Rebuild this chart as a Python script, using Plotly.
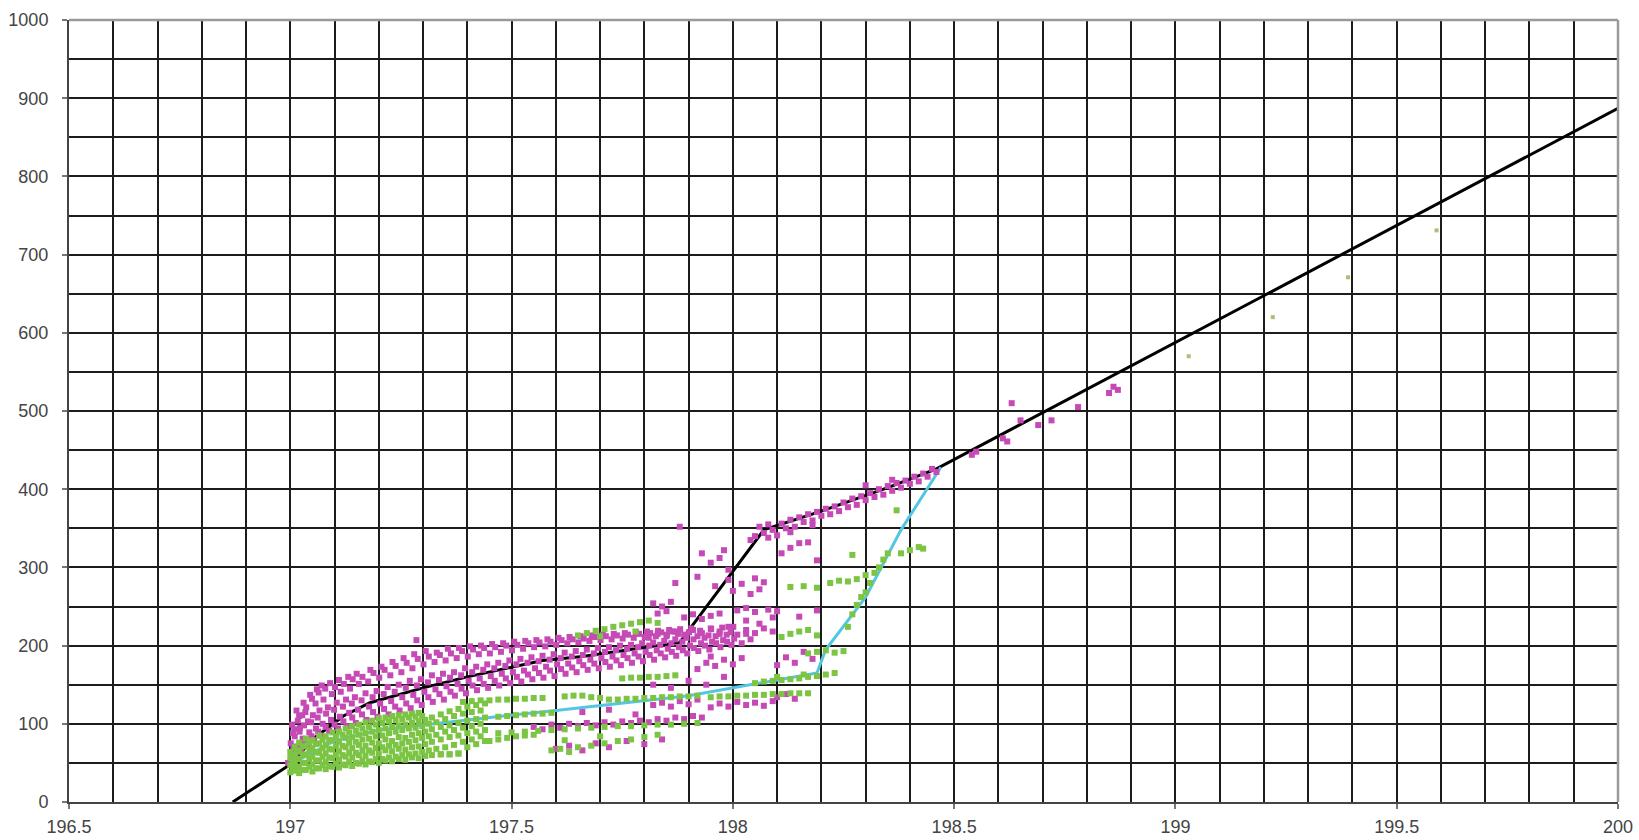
import plotly.graph_objects as go

# ---------------- data ----------------
black_x = [196.87, 197.0, 197.05, 197.12, 197.18, 197.3, 197.4, 197.57, 197.66, 197.88, 198.07, 198.2, 198.35, 198.46, 200.0]
black_y = [0, 48, 80, 110, 127, 146, 160, 181, 186, 204, 348, 372, 402, 426, 887]

cyan_x = [197.0, 197.1, 197.2, 197.4, 197.6, 197.9, 198.19, 198.21, 198.3, 198.38, 198.47]
cyan_y = [48, 78, 92, 105, 117, 136, 165, 195, 262, 348, 428]

magenta_main = [
    (196.995, 50), (197.003, 62), (197.001, 75), (197.006, 88), (197.004, 99),
    (197.012, 57), (197.015, 71), (197.010, 84), (197.017, 104), (197.014, 117),
    (197.024, 66), (197.028, 81), (197.022, 95), (197.027, 111), (197.030, 127),
    (197.038, 73), (197.043, 89), (197.040, 103), (197.036, 121), (197.045, 137),
    (197.054, 79), (197.058, 94), (197.051, 111), (197.057, 126), (197.060, 144),
    (197.069, 85), (197.073, 100), (197.066, 117), (197.075, 131), (197.071, 149),
    (197.088, 91), (197.092, 105), (197.085, 121), (197.094, 138), (197.090, 152),
    (197.108, 94), (197.112, 109), (197.105, 127), (197.114, 141), (197.110, 156),
    (197.128, 97), (197.133, 114), (197.126, 131), (197.135, 145), (197.131, 160),
    (197.148, 101), (197.153, 118), (197.146, 134), (197.155, 151), (197.150, 164),
    (197.172, 105), (197.178, 122), (197.170, 139), (197.176, 154), (197.181, 169),
    (197.197, 109), (197.203, 126), (197.195, 142), (197.201, 159), (197.206, 173),
    (197.222, 112), (197.228, 129), (197.220, 147), (197.226, 162), (197.231, 179),
    (197.247, 117), (197.253, 134), (197.245, 150), (197.251, 166), (197.256, 184),
    (197.272, 120), (197.278, 137), (197.270, 155), (197.276, 171), (197.280, 189), (197.285, 207),
    (197.297, 124), (197.303, 141), (197.295, 157), (197.301, 176), (197.306, 193),
    (197.322, 128), (197.328, 144), (197.320, 162), (197.326, 179), (197.331, 191),
    (197.347, 131), (197.353, 148), (197.345, 164), (197.351, 181), (197.356, 196),
    (197.372, 136), (197.378, 151), (197.370, 166), (197.376, 184), (197.381, 197),
    (197.397, 139), (197.403, 155), (197.395, 171), (197.401, 186), (197.406, 199),
    (197.422, 143), (197.428, 158), (197.420, 173), (197.426, 189), (197.431, 200),
    (197.447, 146), (197.453, 161), (197.445, 176), (197.451, 190), (197.456, 202),
    (197.472, 149), (197.478, 164), (197.470, 178), (197.476, 192), (197.481, 203),
    (197.497, 152), (197.503, 166), (197.495, 181), (197.501, 194), (197.506, 205),
    (197.522, 154), (197.528, 168), (197.520, 183), (197.526, 196), (197.531, 206),
    (197.547, 157), (197.553, 171), (197.545, 185), (197.551, 198), (197.556, 207),
    (197.572, 159), (197.578, 173), (197.570, 187), (197.576, 199), (197.581, 208),
    (197.597, 161), (197.603, 176), (197.595, 189), (197.601, 201), (197.606, 210),
    (197.622, 164), (197.628, 177), (197.620, 191), (197.626, 203), (197.631, 211),
    (197.647, 166), (197.653, 180), (197.645, 193), (197.651, 204), (197.656, 212),
    (197.672, 169), (197.678, 182), (197.670, 195), (197.676, 206), (197.681, 213),
    (197.697, 171), (197.703, 184), (197.695, 197), (197.701, 207), (197.706, 214),
    (197.722, 173), (197.728, 186), (197.720, 198), (197.726, 208), (197.731, 215),
    (197.747, 175), (197.753, 188), (197.745, 200), (197.751, 209), (197.756, 216),
    (197.772, 178), (197.778, 190), (197.770, 201), (197.776, 210), (197.781, 217),
    (197.797, 180), (197.803, 192), (197.795, 203), (197.801, 211), (197.806, 218),
    (197.822, 182), (197.828, 194), (197.820, 204), (197.826, 212), (197.831, 219),
    (197.847, 185), (197.853, 196), (197.845, 206), (197.851, 214), (197.856, 220),
    (197.872, 187), (197.878, 198), (197.870, 208), (197.876, 215), (197.881, 221),
    (197.897, 190), (197.903, 200), (197.895, 210), (197.901, 217), (197.906, 222),
    (197.922, 193), (197.928, 203), (197.920, 212), (197.926, 219),
    (197.947, 195), (197.953, 205), (197.945, 213), (197.951, 221),
    (197.972, 198), (197.978, 207), (197.970, 215), (197.976, 223),
    (197.997, 201), (198.003, 209), (197.995, 217), (198.001, 224),
    (198.02, 203), (198.04, 208), (198.03, 215),
]

magenta_fill = [
    (197.007, 68), (197.009, 93), (197.019, 64), (197.021, 90), (197.020, 110),
    (197.033, 78), (197.031, 98), (197.034, 115), (197.048, 84), (197.047, 102), (197.049, 132),
    (197.063, 90), (197.062, 108), (197.064, 140), (197.080, 96), (197.081, 113), (197.079, 145),
    (197.100, 99), (197.099, 118), (197.101, 147), (197.120, 103), (197.119, 122), (197.121, 151),
    (197.140, 108), (197.139, 126), (197.141, 157), (197.162, 112), (197.161, 130), (197.163, 160),
    (197.187, 115), (197.186, 134), (197.188, 165), (197.212, 119), (197.211, 138), (197.213, 169),
    (197.237, 122), (197.236, 141), (197.238, 174), (197.262, 126), (197.261, 146), (197.263, 178),
    (197.287, 130), (197.286, 149), (197.288, 183), (197.312, 134), (197.311, 153), (197.313, 186),
    (197.337, 138), (197.336, 156), (197.338, 188), (197.362, 141), (197.361, 159), (197.363, 190),
    (197.387, 145), (197.386, 162), (197.388, 193), (197.412, 149), (197.411, 166), (197.413, 195),
    (197.437, 151), (197.436, 169), (197.438, 197), (197.462, 155), (197.461, 171), (197.463, 198),
    (197.487, 158), (197.486, 174), (197.488, 200), (197.512, 160), (197.511, 176), (197.513, 201),
    (197.537, 163), (197.536, 178), (197.538, 203), (197.562, 165), (197.561, 180), (197.563, 204),
    (197.587, 168), (197.586, 182), (197.588, 205), (197.612, 170), (197.611, 184), (197.613, 207),
    (197.637, 172), (197.636, 186), (197.638, 208), (197.662, 175), (197.661, 188), (197.663, 209),
    (197.687, 177), (197.686, 190), (197.688, 211), (197.712, 179), (197.711, 192), (197.713, 212),
    (197.737, 181), (197.736, 194), (197.738, 213), (197.762, 184), (197.761, 196), (197.763, 214),
    (197.787, 186), (197.786, 198), (197.788, 215), (197.812, 188), (197.811, 200), (197.813, 216),
    (197.837, 190), (197.836, 201), (197.838, 217), (197.862, 192), (197.861, 203), (197.863, 218),
    (197.887, 194), (197.886, 205), (197.912, 197), (197.911, 208), (197.937, 200), (197.936, 210),
    (197.962, 203), (197.961, 212), (197.987, 205), (197.986, 214),
]

magenta_lower = [
    (197.55, 96), (197.57, 93), (197.59, 99), (197.61, 95), (197.63, 100),
    (197.65, 97), (197.67, 101), (197.69, 98), (197.71, 102), (197.73, 99),
    (197.75, 103), (197.77, 101), (197.79, 104), (197.81, 102), (197.83, 106),
    (197.85, 104), (197.87, 108), (197.89, 106), (197.91, 110), (197.93, 108),
    (197.60, 68), (197.63, 72), (197.66, 66), (197.69, 75), (197.72, 70),
    (197.76, 78), (197.80, 74), (197.84, 80),
    (197.82, 124), (197.84, 127), (197.86, 122), (197.88, 129), (197.90, 125), (197.92, 131),
    (197.95, 121), (197.97, 126), (197.99, 122), (198.01, 128), (198.03, 124),
    (198.05, 127), (198.07, 123), (198.09, 129),
    (198.10, 134), (198.12, 138), (198.14, 132),
    (197.82, 150), (197.86, 146), (197.90, 155), (197.94, 150), (197.98, 160),
    (197.92, 170), (197.94, 178), (197.96, 174), (197.98, 182), (198.00, 176),
    (198.02, 184), (197.95, 186),
    (197.66, 115), (197.72, 118), (197.78, 112),
]

magenta_steep = [
    (197.81, 210), (197.83, 215), (197.85, 212), (197.87, 218), (197.89, 214),
    (197.91, 220), (197.93, 216), (197.95, 222), (197.97, 218), (197.99, 224),
    (198.01, 214), (198.03, 220), (198.05, 216), (198.07, 222), (198.09, 218),
    (197.82, 254), (197.84, 250), (197.86, 256), (197.83, 241), (197.85, 244),
    (197.89, 236), (197.91, 240), (197.93, 234), (197.95, 238), (197.97, 241),
    (198.01, 245), (198.03, 248), (198.05, 243), (198.08, 246), (198.10, 244),
    (197.87, 280), (197.92, 288), (197.96, 276), (197.99, 284), (198.02, 279),
    (198.05, 286), (198.07, 281), (197.99, 297),
    (197.88, 352), (197.93, 318), (197.98, 322), (197.95, 306), (197.97, 312),
    (198.00, 270), (198.04, 266), (198.06, 272),
    (198.03, 232), (198.06, 228), (198.09, 236),
    (198.11, 318), (198.13, 325), (198.15, 331), (198.17, 332), (198.19, 309),
    (198.10, 175), (198.12, 185), (198.14, 178), (198.16, 192), (198.18, 183),
    (198.15, 237), (198.19, 245),
]

magenta_upper = [
    (198.05, 340), (198.06, 352), (198.07, 344), (198.08, 355), (198.09, 348),
    (198.10, 341), (198.11, 356), (198.12, 350), (198.13, 361), (198.14, 352),
    (198.15, 364), (198.16, 358), (198.17, 368), (198.18, 360), (198.19, 371),
    (198.20, 366), (198.21, 375), (198.22, 368), (198.23, 378), (198.24, 372),
    (198.25, 383), (198.26, 377), (198.27, 388), (198.28, 380), (198.29, 391),
    (198.30, 386), (198.31, 395), (198.32, 390), (198.33, 400), (198.34, 393),
    (198.35, 404), (198.36, 398), (198.37, 408), (198.38, 402), (198.39, 411),
    (198.40, 407), (198.41, 416), (198.42, 410), (198.43, 420), (198.44, 416),
    (198.45, 426), (198.46, 422),
    (198.04, 335), (198.08, 338), (198.13, 345), (198.18, 354), (198.30, 405), (198.36, 412),
]

magenta_far = [
    (198.54, 444), (198.55, 448), (198.61, 465), (198.62, 461), (198.63, 510),
    (198.65, 488), (198.69, 482), (198.72, 488), (198.78, 505), (198.85, 523),
    (198.86, 531), (198.87, 527),
]

green_main = [
    (197.000, 38), (197.000, 47), (197.000, 56), (197.000, 64),
    (197.010, 40), (197.010, 50), (197.010, 60), (197.010, 70),
    (197.020, 37), (197.020, 45), (197.020, 55), (197.020, 66), (197.020, 76),
    (197.035, 41), (197.035, 50), (197.035, 61), (197.035, 72), (197.035, 81),
    (197.050, 39), (197.050, 48), (197.050, 58), (197.050, 69), (197.050, 79),
    (197.065, 43), (197.065, 53), (197.065, 63), (197.065, 75), (197.065, 85),
    (197.080, 42), (197.080, 51), (197.080, 62), (197.080, 73), (197.080, 84),
    (197.095, 45), (197.095, 56), (197.095, 67), (197.095, 79), (197.095, 89),
    (197.110, 44), (197.110, 54), (197.110, 65), (197.110, 77), (197.110, 90),
    (197.125, 47), (197.125, 58), (197.125, 70), (197.125, 82), (197.125, 94),
    (197.140, 46), (197.140, 57), (197.140, 69), (197.140, 83), (197.140, 97),
    (197.155, 49), (197.155, 60), (197.155, 73), (197.155, 86), (197.155, 99),
    (197.170, 48), (197.170, 59), (197.170, 72), (197.170, 88), (197.170, 102),
    (197.185, 51), (197.185, 63), (197.185, 76), (197.185, 90), (197.185, 104),
    (197.200, 50), (197.200, 62), (197.200, 75), (197.200, 92), (197.200, 107),
    (197.215, 53), (197.215, 66), (197.215, 80), (197.215, 94), (197.215, 108),
    (197.230, 52), (197.230, 65), (197.230, 78), (197.230, 96), (197.230, 110),
    (197.245, 55), (197.245, 68), (197.245, 83), (197.245, 98), (197.245, 111),
    (197.260, 54), (197.260, 67), (197.260, 82), (197.260, 99), (197.260, 112),
    (197.275, 57), (197.275, 70), (197.275, 86), (197.275, 101), (197.275, 113),
    (197.290, 56), (197.290, 71), (197.290, 88), (197.290, 103), (197.290, 114),
    (197.305, 59), (197.305, 74), (197.305, 90), (197.305, 105),
    (197.320, 60), (197.320, 77), (197.320, 93), (197.320, 108),
    (197.340, 61), (197.340, 80), (197.340, 96), (197.340, 112),
    (197.360, 61), (197.360, 83), (197.360, 98), (197.360, 116),
    (197.380, 62), (197.380, 85), (197.380, 101), (197.380, 119),
    (197.400, 70), (197.400, 88), (197.400, 104), (197.400, 122),
    (197.420, 74), (197.420, 90), (197.420, 106), (197.420, 124),
    (197.440, 78), (197.440, 92), (197.440, 108), (197.440, 126),
]

green_fill = [
    (197.005, 43), (197.005, 52), (197.005, 60), (197.015, 45), (197.015, 55), (197.015, 65),
    (197.028, 41), (197.028, 50), (197.028, 60), (197.028, 71),
    (197.043, 45), (197.043, 55), (197.043, 66), (197.043, 76),
    (197.058, 43), (197.058, 53), (197.058, 64), (197.058, 74),
    (197.073, 47), (197.073, 58), (197.073, 69), (197.073, 80),
    (197.088, 46), (197.088, 57), (197.088, 68), (197.088, 79),
    (197.103, 49), (197.103, 60), (197.103, 72), (197.103, 84),
    (197.118, 48), (197.118, 60), (197.118, 72), (197.118, 86),
    (197.133, 51), (197.133, 63), (197.133, 76), (197.133, 89),
    (197.148, 50), (197.148, 63), (197.148, 77), (197.148, 91),
    (197.163, 53), (197.163, 66), (197.163, 80), (197.163, 94),
    (197.178, 52), (197.178, 66), (197.178, 81), (197.178, 96),
    (197.193, 55), (197.193, 69), (197.193, 84), (197.193, 99),
    (197.208, 55), (197.208, 70), (197.208, 85), (197.208, 101),
    (197.223, 57), (197.223, 72), (197.223, 88), (197.223, 103),
    (197.238, 58), (197.238, 73), (197.238, 90), (197.238, 105),
    (197.253, 60), (197.253, 75), (197.253, 92), (197.253, 106),
    (197.268, 61), (197.268, 77), (197.268, 94), (197.268, 108),
    (197.283, 62), (197.283, 79), (197.283, 95), (197.283, 109),
    (197.298, 64), (197.298, 82), (197.298, 97), (197.298, 110),
    (197.313, 66), (197.313, 84), (197.313, 100),
    (197.330, 68), (197.330, 86), (197.330, 102),
    (197.350, 70), (197.350, 90), (197.350, 106),
    (197.370, 73), (197.370, 92), (197.370, 110),
    (197.390, 77), (197.390, 95), (197.390, 113),
    (197.410, 80), (197.410, 97), (197.410, 115),
    (197.430, 84), (197.430, 100), (197.430, 117),
]

green_bands = [
    (197.39, 128), (197.41, 129), (197.43, 130), (197.45, 130), (197.47, 131),
    (197.49, 131), (197.51, 132), (197.53, 132), (197.55, 133), (197.57, 133),
    (197.62, 135), (197.64, 136), (197.66, 136), (197.68, 134), (197.70, 133),
    (197.72, 131), (197.74, 131), (197.76, 132), (197.78, 132), (197.80, 133),
    (197.82, 133), (197.84, 134), (197.86, 134), (197.88, 135), (197.90, 135),
    (197.92, 136), (197.95, 134), (197.97, 135), (197.99, 135), (198.01, 136),
    (198.03, 136), (198.05, 137), (198.07, 137), (198.09, 138), (198.11, 138),
    (198.13, 139), (198.15, 139), (198.17, 139),
    (197.75, 158), (197.77, 159), (197.79, 159), (197.81, 160), (197.83, 160),
    (197.85, 161), (197.87, 162),
    (198.05, 152), (198.07, 154), (198.09, 155), (198.11, 156), (198.13, 157),
    (198.15, 158), (198.17, 160), (198.19, 161), (198.21, 163), (198.23, 165),
    (198.10, 160), (198.16, 163),
    (197.47, 109), (197.49, 110), (197.51, 111), (197.53, 112), (197.55, 113),
    (197.57, 113), (197.59, 114),
    (197.47, 88), (197.50, 89), (197.53, 90), (197.56, 91), (197.59, 92),
    (197.62, 93), (197.65, 94), (197.68, 95), (197.71, 96), (197.74, 97),
    (197.77, 97), (197.80, 98), (197.83, 99), (197.86, 99), (197.89, 100),
    (197.92, 101),
    (197.45, 78), (197.47, 80), (197.49, 82), (197.51, 84), (197.53, 85), (197.55, 86),
    (197.59, 66), (197.61, 68), (197.63, 64), (197.65, 70), (197.68, 72),
    (197.71, 75), (197.74, 78), (197.77, 80), (197.80, 83), (197.83, 86),
    (197.62, 79), (197.70, 84),
    (197.34, 61), (197.36, 61), (197.38, 62),
    (197.65, 213), (197.67, 216), (197.69, 219), (197.71, 221), (197.73, 224),
    (197.75, 226), (197.77, 228), (197.79, 230), (197.81, 232), (197.83, 229),
    (197.70, 212), (197.78, 218),
]

green_rise = [
    (198.11, 211), (198.13, 215), (198.15, 218), (198.17, 220), (198.19, 213),
    (198.17, 190), (198.19, 192), (198.21, 194), (198.23, 191), (198.25, 193),
    (198.13, 275), (198.16, 276), (198.19, 274),
    (198.22, 280), (198.24, 283), (198.26, 282),
    (198.28, 285), (198.30, 290), (198.32, 293),
    (198.26, 224), (198.27, 240), (198.28, 252), (198.29, 262), (198.30, 268),
    (198.31, 280), (198.33, 300), (198.34, 310), (198.35, 318), (198.27, 316),
    (198.37, 373), (198.38, 318), (198.40, 322), (198.42, 326), (198.43, 324),
]

green_far = [(199.03, 570), (199.22, 620), (199.39, 671), (199.59, 731)]

x_ticks = [196.5, 197, 197.5, 198, 198.5, 199, 199.5, 200]
x_labels = ["196.5", "197", "197.5", "198", "198.5", "199", "199.5", "200"]
y_ticks = [0, 100, 200, 300, 400, 500, 600, 700, 800, 900, 1000]

# ---------------- figure ----------------
MAGENTA = "#C64AB5"
GREEN = "#7CC443"
CYAN = "#52C6E2"

magenta_pts = magenta_main + magenta_fill + magenta_lower + magenta_steep + magenta_upper + magenta_far
green_pts = green_main + green_fill + green_bands + green_rise

fig = go.Figure()
fig.add_trace(go.Scatter(x=black_x, y=black_y, mode="lines",
                         line=dict(color="#000000", width=3)))
fig.add_trace(go.Scatter(x=cyan_x, y=cyan_y, mode="lines",
                         line=dict(color=CYAN, width=3)))
fig.add_trace(go.Scatter(x=[p[0] for p in magenta_pts], y=[p[1] for p in magenta_pts],
                         mode="markers",
                         marker=dict(symbol="square", size=6, color=MAGENTA, line=dict(width=0))))
fig.add_trace(go.Scatter(x=[p[0] for p in green_pts], y=[p[1] for p in green_pts],
                         mode="markers",
                         marker=dict(symbol="square", size=6, color=GREEN, line=dict(width=0))))
fig.add_trace(go.Scatter(x=[p[0] for p in green_far], y=[p[1] for p in green_far],
                         mode="markers",
                         marker=dict(symbol="square", size=4, color="#A9C07A", line=dict(width=0))))

grid_col = "#1c1c1c"
tick_font = dict(family="Liberation Sans, Arial", size=18, color="#444")
fig.update_xaxes(range=[196.5, 200], tickvals=x_ticks, ticktext=x_labels,
                 showgrid=True, gridcolor=grid_col, gridwidth=1.8,
                 minor=dict(dtick=0.1, tick0=196.5, showgrid=True, gridcolor=grid_col, gridwidth=1.8),
                 ticks="outside", ticklen=5, tickcolor="#777", tickwidth=1.5,
                 showline=True, linecolor="#444", linewidth=2,
                 zeroline=False, ticklabelstandoff=2, automargin=False,
                 tickfont=tick_font)
fig.update_yaxes(range=[0, 1000], tickvals=y_ticks,
                 showgrid=True, gridcolor=grid_col, gridwidth=1.8,
                 minor=dict(dtick=50, tick0=0, showgrid=True, gridcolor=grid_col, gridwidth=1.8),
                 ticks="outside", ticklen=5, tickcolor="#777", tickwidth=1.5,
                 showline=True, linecolor="#444", linewidth=2,
                 zeroline=False, ticklabelstandoff=10, automargin=False,
                 tickfont=tick_font)

fig.add_shape(type="line", xref="paper", yref="paper", x0=0, x1=1, y0=1, y1=1,
              line=dict(color="#9a9a9a", width=2.5))
fig.add_shape(type="line", xref="paper", yref="paper", x0=1, x1=1, y0=0, y1=1,
              line=dict(color="#9a9a9a", width=2.5))

fig.update_layout(width=1639, height=840, showlegend=False,
                  plot_bgcolor="white", paper_bgcolor="white",
                  margin=dict(l=69, r=21, t=20, b=38, autoexpand=False))

fig.write_html("out.html", config={"displayModeBar": False},
               post_script="document.body.style.margin='0';document.body.style.overflow='hidden';")
